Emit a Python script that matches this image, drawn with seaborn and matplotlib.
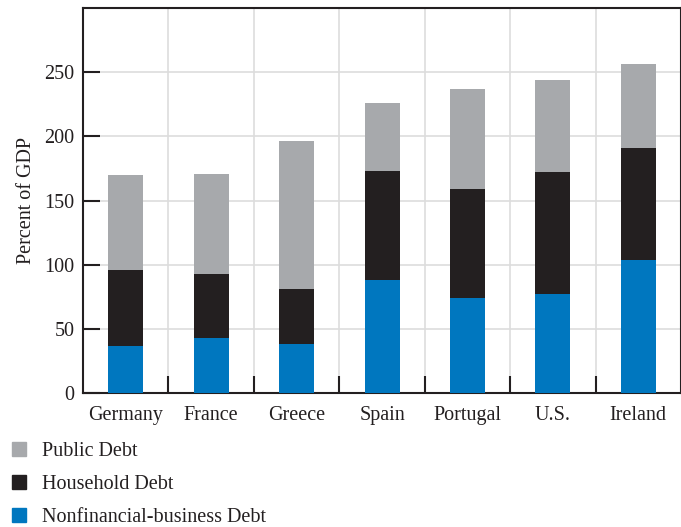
import matplotlib.pyplot as plt
import seaborn as sns
import pandas as pd

countries = ['Germany', 'France', 'Greece', 'Spain', 'Portugal', 'U.S.', 'Ireland']
nonfinancial = [37, 43, 38, 88, 74, 77, 104]
household = [59, 50, 43, 85, 85, 95, 87]
public = [74, 78, 115, 53, 78, 72, 65]

df = pd.DataFrame({'country': countries, 'nonfin': nonfinancial,
                   'household': household, 'public': public})
df['lvl2'] = df['nonfin'] + df['household']
df['lvl3'] = df['lvl2'] + df['public']

c_blue = '#0077BF'
c_black = '#231F20'
c_gray = '#A7A9AC'
fs = 14.5

sns.set_style('white')
plt.rcParams['font.family'] = ['Liberation Serif', 'DejaVu Serif']

fig = plt.figure(figsize=(6.81, 5.27), dpi=100)
ax = fig.add_axes([0.122, 0.254, 0.878, 0.731])

# stacked bars: draw totals from the top layer down
for col, c in [('lvl3', c_gray), ('lvl2', c_black), ('nonfin', c_blue)]:
    sns.barplot(data=df, x='country', y=col, color=c, width=0.41, saturation=1,
                edgecolor='none', linewidth=0, ax=ax, zorder=3)

ax.set_xlim(-0.5, 6.5)
ax.set_ylim(0, 300)
ax.set_yticks([0, 50, 100, 150, 200, 250])
ax.set_xticks([i + 0.5 for i in range(6)], minor=True)
ax.grid(True, axis='y', color='#DDDDDD', lw=1.2, zorder=0)
ax.grid(True, axis='x', which='minor', color='#DDDDDD', lw=1.2, zorder=0)
ax.set_axisbelow(True)

ax.tick_params(axis='x', which='major', bottom=False, length=0, labelsize=fs, pad=9,
               colors='#231F20')
ax.tick_params(axis='x', which='minor', bottom=True, direction='in', length=12, width=1.5,
               color='#231F20')
ax.tick_params(axis='y', left=True, direction='in', length=12, width=1.5, labelsize=fs,
               pad=6, colors='#231F20')
ax.set_xlabel('')
ax.set_ylabel('Percent of GDP', fontsize=fs, color='#231F20', labelpad=6)
for s in ax.spines.values():
    s.set_color('#231F20')
    s.set_linewidth(1.5)

handles = [plt.Rectangle((0, 0), 1, 1, color=c) for c in [c_gray, c_black, c_blue]]
fig.legend(handles, ['Public Debt', 'Household Debt', 'Nonfinancial-business Debt'],
           loc='upper left', bbox_to_anchor=(0.0, 0.184), frameon=False, fontsize=fs,
           handlelength=0.7, handleheight=0.7, handletextpad=0.8, labelspacing=0.68,
           borderaxespad=0.2, labelcolor='#231F20')

fig.savefig('out.png', dpi=100)
